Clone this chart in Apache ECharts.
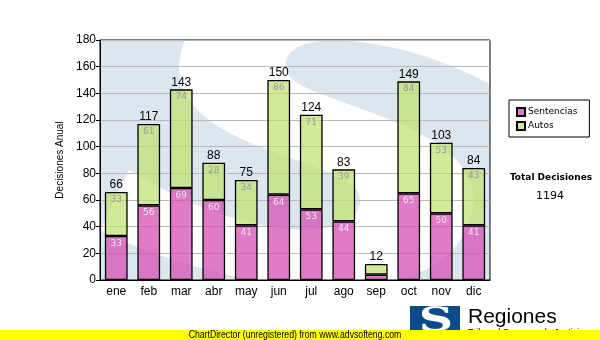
<!DOCTYPE html>
<html>
<head>
<meta charset="utf-8">
<script src="https://cdn.jsdelivr.net/npm/echarts@6/dist/echarts.min.js"></script>
<style>html,body{margin:0;padding:0;background:#fff}#c{width:600px;height:340px}</style>
</head>
<body>
<div id="c"></div>
<script>
const categories = ['ene','feb','mar','abr','may','jun','jul','ago','sep','oct','nov','dic'];
const sentencias = [33,56,69,60,41,64,53,44,4,65,50,41];
const autos = [33,61,74,28,34,86,71,39,8,84,53,43];
const yTicks = {min:0, max:180, interval:20};
const totals = categories.map((c,i)=>sentencias[i]+autos[i]);
const grandTotal = totals.reduce((a,b)=>a+b,0);

const chart = echarts.init(document.getElementById('c'), null, {renderer:'canvas'});
const innerLabel = (color) => ({
  show:true, position:'insideTop', distance:3, fontSize:9, color:color,
  fontFamily:'DejaVu Sans',
  formatter: p => p.value >= 10 ? String(p.value) : ''
});
chart.setOption({
  animation:false,
  grid:{left:100, right:110, top:40, bottom:60, show:true, backgroundColor:'transparent', borderColor:'#000', borderWidth:1},
  legend:{
    data:['Sentencias','Autos'], orient:'vertical', left:509, top:100,
    itemWidth:8, itemHeight:8, itemGap:4,
    padding:[7,12,6,7], borderColor:'#000', borderWidth:1, backgroundColor:'#fff',
    icon:'rect',
    textStyle:{fontSize:9, fontFamily:'DejaVu Sans', color:'#000', padding:[0,0,0,-2]}
  },
  xAxis:{
    type:'category', data:categories,
    axisLine:{lineStyle:{color:'#000', width:1}},
    axisTick:{alignWithLabel:true, length:4, lineStyle:{color:'#000'}},
    axisLabel:{fontSize:12, color:'#000', fontFamily:'Liberation Sans', margin:6}
  },
  yAxis:{
    type:'value', min:yTicks.min, max:yTicks.max, interval:yTicks.interval,
    name:'Decisiones Anual', nameLocation:'middle', nameGap:27,
    nameTextStyle:{fontSize:10, color:'#000', fontFamily:'Liberation Sans'},
    axisLine:{show:true, lineStyle:{color:'#000', width:1}},
    axisTick:{show:true, length:4, lineStyle:{color:'#000'}},
    axisLabel:{fontSize:12, color:'#000', fontFamily:'Liberation Sans', margin:4},
    splitLine:{lineStyle:{color:'#b8b8b8', width:1}}
  },
  graphic:[
    {type:'rect', z:-10, shape:{x:100, y:40, width:390, height:240}, style:{fill:'#dce6ef'}},
    {type:'text', z:-9, x:318, y:178, scaleX:1.45, scaleY:1.0, rotation:-0.18,
     style:{text:'S', fontSize:410, fontWeight:'bold', fontStyle:'italic', fontFamily:'DejaVu Sans', fill:'#ffffff', align:'center', verticalAlign:'middle'}},
    {type:'rect', z:-8, shape:{x:0, y:0, width:100, height:340}, style:{fill:'#fff'}},
    {type:'rect', z:-8, shape:{x:490, y:0, width:110, height:340}, style:{fill:'#fff'}},
    {type:'rect', z:-8, shape:{x:0, y:280, width:600, height:60}, style:{fill:'#fff'}},
    {type:'rect', z:-8, shape:{x:0, y:0, width:600, height:40}, style:{fill:'#fff'}},
    {type:'text', x:551, y:178, style:{text:'Total Decisiones', fontSize:9, fontWeight:'bold', fontFamily:'DejaVu Sans', fill:'#000', align:'center', verticalAlign:'middle'}},
    {type:'text', x:550, y:196, style:{text:String(grandTotal), fontSize:11, fontFamily:'DejaVu Sans', fill:'#000', align:'center', verticalAlign:'middle'}},
    {type:'rect', z:5, shape:{x:410, y:306, width:50, height:34}, style:{fill:'#0b4a8b'}},
    {type:'text', z:6, x:436, y:322, scaleX:1.4, style:{text:'S', fontSize:34, fontWeight:'bold', fontFamily:'DejaVu Serif', fill:'#fff', align:'center', verticalAlign:'middle'}},
    {type:'text', z:5, x:468, y:317, style:{text:'Regiones', fontSize:21, fontFamily:'Liberation Sans', fill:'#000', verticalAlign:'middle'}},
    {type:'text', z:5, x:468, y:333, style:{text:'Tribunal Supremo de Justicia', fontSize:9, fontFamily:'Liberation Sans', fill:'#000', verticalAlign:'middle'}},
    {type:'rect', z:7, shape:{x:0, y:330, width:600, height:10}, style:{fill:'#ffff00'}},
    {type:'text', z:8, x:295, y:335, scaleX:0.87, style:{text:'ChartDirector (unregistered) from www.advsofteng.com', fontSize:10, fontFamily:'Liberation Sans', fill:'#000', align:'center', verticalAlign:'middle'}}
  ],
  series:[
    {name:'Sentencias', type:'bar', stack:'t', data:sentencias, barWidth:'70%',
     itemStyle:{color:'rgba(214,80,180,0.75)', borderColor:'#000', borderWidth:1.3},
     label:innerLabel('#f4e4f0')},
    {name:'Autos', type:'bar', stack:'t', data:autos, barWidth:'70%',
     itemStyle:{color:'rgba(190,225,110,0.7)', borderColor:'#000', borderWidth:1.3},
     label:innerLabel('#9a9a9a')},
    {name:'Total', type:'bar', stack:'t', data:totals.map(()=>0), barWidth:'70%',
     itemStyle:{color:'transparent', borderWidth:0},
     label:{show:true, position:'top', distance:1, fontSize:12, color:'#000', fontFamily:'Liberation Sans',
       formatter:p=>String(totals[p.dataIndex])}}
  ]
});
</script>
</body>
</html>
